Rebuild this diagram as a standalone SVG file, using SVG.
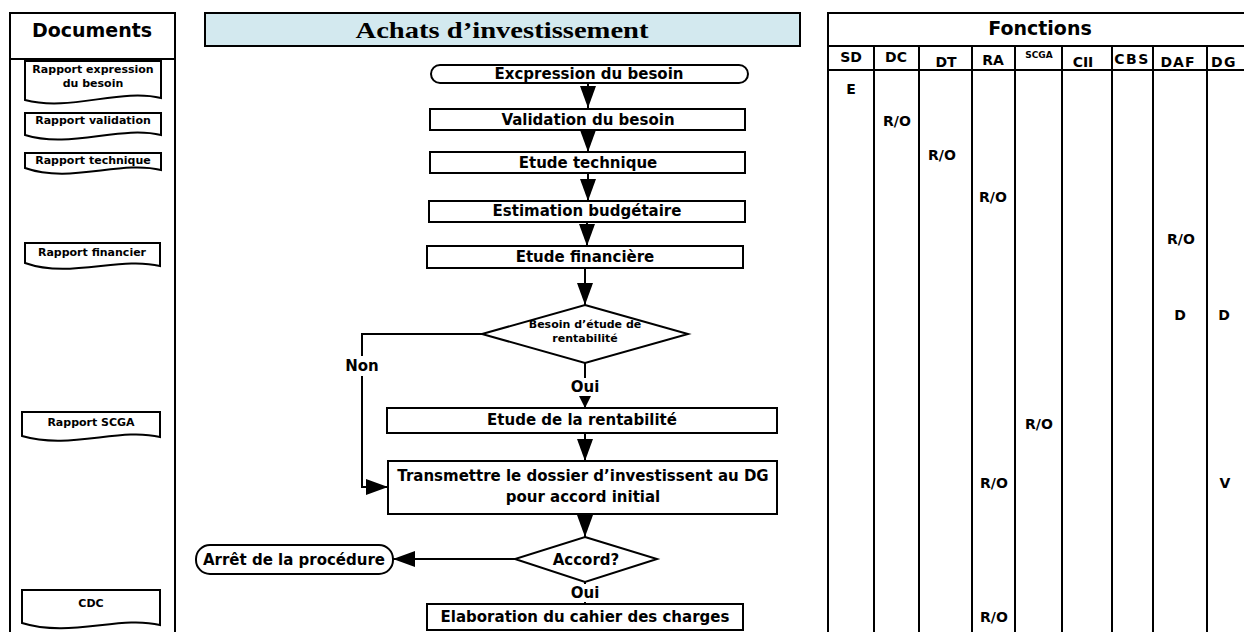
<svg xmlns="http://www.w3.org/2000/svg" width="1244" height="632" viewBox="0 0 1244 632">
<style>
.ln{fill:none;stroke:#000;stroke-width:2}
.box{fill:#fff;stroke:#000;stroke-width:2}
.t{font-family:"DejaVu Sans","Liberation Sans",sans-serif;font-weight:bold;fill:#000;text-anchor:middle}
.f15{font-size:15px}
.f11{font-size:11px}
.f14{font-size:14px}
.f19{font-size:19px}
.bg{fill:#fff;stroke:none}
</style>
<defs>
<marker id="ah" markerUnits="userSpaceOnUse" markerWidth="24" markerHeight="18" refX="22" refY="8" orient="auto"><path d="M0,0 L22,8 L0,16 z" fill="#000"/></marker>
<marker id="ahs" markerUnits="userSpaceOnUse" markerWidth="14" markerHeight="14" refX="12" refY="6" orient="auto"><path d="M0,0 L12,6 L0,12 z" fill="#000"/></marker>
</defs>
<rect width="1244" height="632" fill="#fff"/>

<!-- Documents column -->
<g id="documents">
<path class="ln" d="M10,640 V13 H175 V640"/>
<line class="ln" x1="10" y1="59" x2="175" y2="59"/>
<text class="t f19" x="92" y="37">Documents</text>
</g>
<g id="doc-expression">
<path class="box" d="M25,61 H161 V98 C120,88 70,112 25,100 Z"/>
<text class="t f11" x="93" y="73">Rapport expression</text>
<text class="t f11" x="93" y="87">du besoin</text>
</g>
<g id="doc-validation">
<path class="box" d="M25,113 H161 V135 C120,125 70,149 25,135 Z"/>
<text class="t f11" x="93" y="124">Rapport validation</text>
</g>
<g id="doc-technique">
<path class="box" d="M25,153 H161 V170 C120,160 70,184 25,168 Z"/>
<text class="t f11" x="93" y="164">Rapport technique</text>
</g>
<g id="doc-financier">
<path class="box" d="M25,243 H160 V266 C120,256 70,279 25,263 Z"/>
<text class="t f11" x="92" y="256">Rapport financier</text>
</g>
<g id="doc-scga">
<path class="box" d="M22,412 H160 V437 C120,427 70,450 22,436 Z"/>
<text class="t f11" x="91" y="426">Rapport SCGA</text>
</g>
<g id="doc-cdc">
<path class="box" d="M22,590 H160 V625 C120,615 70,638 22,623 Z"/>
<text class="t f11" x="91" y="607">CDC</text>
</g>

<!-- Title -->
<g id="title">
<rect x="205" y="13" width="595" height="33" fill="#d3e9ef" stroke="#000" stroke-width="2"/>
<text x="502" y="38" font-family="'Liberation Serif',serif" font-weight="bold" font-size="24" text-anchor="middle" textLength="293" lengthAdjust="spacingAndGlyphs">Achats d’investissement</text>
</g>

<!-- Connectors -->
<g id="connectors">
<line class="ln" x1="588" y1="83" x2="588" y2="108" marker-end="url(#ah)"/>
<line class="ln" x1="588" y1="130" x2="588" y2="152" marker-end="url(#ah)"/>
<line class="ln" x1="588" y1="173" x2="588" y2="201" marker-end="url(#ah)"/>
<line class="ln" x1="587" y1="222" x2="587" y2="246" marker-end="url(#ah)"/>
<line class="ln" x1="585" y1="268" x2="585" y2="305" marker-end="url(#ah)"/>
<line class="ln" x1="585" y1="363" x2="585" y2="408" marker-end="url(#ahs)"/>
<line class="ln" x1="585" y1="433" x2="585" y2="461" marker-end="url(#ah)"/>
<line class="ln" x1="585" y1="514" x2="585" y2="537" marker-end="url(#ah)"/>
<line class="ln" x1="515" y1="559" x2="393" y2="559" marker-end="url(#ah)"/>
<polyline class="ln" points="482,334 362,334 362,487 388,487" marker-end="url(#ah)"/>
<line class="ln" x1="585" y1="582" x2="585" y2="604"/>
<rect class="bg" x="344" y="356" width="36" height="20"/>
<text class="t f15" x="362" y="371">Non</text>
<rect class="bg" x="569" y="378" width="32" height="18"/>
<text class="t f15" x="585" y="392">Oui</text>
<rect class="bg" x="569" y="584" width="32" height="18"/>
<text class="t f15" x="585" y="598">Oui</text>
</g>

<!-- Flowchart nodes -->
<g id="n-expression">
<rect class="box" x="431" y="65" width="317" height="18" rx="9" ry="9"/>
<text class="t f15" x="589" y="79">Excpression du besoin</text>
</g>
<g id="n-validation">
<rect class="box" x="430" y="109" width="315" height="21"/>
<text class="t f15" x="588" y="125">Validation du besoin</text>
</g>
<g id="n-technique">
<rect class="box" x="430" y="152" width="315" height="21"/>
<text class="t f15" x="588" y="168">Etude technique</text>
</g>
<g id="n-budget">
<rect class="box" x="429" y="201" width="316" height="21"/>
<text class="t f15" x="587" y="216">Estimation budgétaire</text>
</g>
<g id="n-financiere">
<rect class="box" x="427" y="246" width="316" height="22"/>
<text class="t f15" x="585" y="262">Etude financière</text>
</g>
<g id="n-besoin-rentabilite">
<polygon class="box" points="585,305 688,334 585,363 482,334"/>
<text class="t f11" x="585" y="328">Besoin d’étude de</text>
<text class="t f11" x="585" y="342">rentabilité</text>
</g>
<g id="n-rentabilite">
<rect class="box" x="387" y="408" width="390" height="25"/>
<text class="t f15" x="582" y="425">Etude de la rentabilité</text>
</g>
<g id="n-transmettre">
<rect class="box" x="388" y="461" width="389" height="53"/>
<text class="t f15" x="583" y="481">Transmettre le dossier d’investissent au DG</text>
<text class="t f15" x="583" y="502">pour accord initial</text>
</g>
<g id="n-accord">
<polygon class="box" points="585,537 657,559 585,582 515,559"/>
<text class="t f15" x="586" y="565">Accord?</text>
</g>
<g id="n-arret">
<rect class="box" x="196" y="545" width="197" height="29" rx="14" ry="14"/>
<text class="t f15" x="294" y="565">Arrêt de la procédure</text>
</g>
<g id="n-cahier">
<rect class="box" x="427" y="604" width="316" height="26"/>
<text class="t f15" x="585" y="622">Elaboration du cahier des charges</text>
</g>

<!-- Fonctions table -->
<g id="fonctions">
<path class="ln" d="M828,640 V13 H1250"/>
<line class="ln" x1="828" y1="46" x2="1250" y2="46"/>
<line class="ln" x1="828" y1="70" x2="1250" y2="70"/>
<line class="ln" x1="874" y1="46" x2="874" y2="640"/>
<line class="ln" x1="919" y1="46" x2="919" y2="640"/>
<line class="ln" x1="972" y1="46" x2="972" y2="640"/>
<line class="ln" x1="1015" y1="46" x2="1015" y2="640"/>
<line class="ln" x1="1062" y1="46" x2="1062" y2="640"/>
<line class="ln" x1="1112" y1="46" x2="1112" y2="640"/>
<line class="ln" x1="1153" y1="46" x2="1153" y2="640"/>
<line class="ln" x1="1207" y1="46" x2="1207" y2="640"/>
<text class="t f19" x="1040" y="35">Fonctions</text>
<text class="t f14" x="851" y="62">SD</text>
<text class="t f14" x="896" y="62">DC</text>
<text class="t f14" x="946" y="67">DT</text>
<text class="t f14" x="993" y="65">RA</text>
<text class="t" font-size="9" x="1039" y="58">SCGA</text>
<text class="t f14" x="1083" y="67">CII</text>
<text class="t f14" x="1132" y="64" letter-spacing="1.5">CBS</text>
<text class="t f14" x="1178" y="67" letter-spacing="1">DAF</text>
<text class="t f14" x="1224" y="67" letter-spacing="1.5">DG</text>
</g>
<g id="cells">
<text class="t f14" x="851" y="94">E</text>
<text class="t f14" x="897" y="126">R/O</text>
<text class="t f14" x="942" y="160">R/O</text>
<text class="t f14" x="993" y="202">R/O</text>
<text class="t f14" x="1181" y="244">R/O</text>
<text class="t f14" x="1180" y="320">D</text>
<text class="t f14" x="1224" y="320">D</text>
<text class="t f14" x="1039" y="429">R/O</text>
<text class="t f14" x="994" y="488">R/O</text>
<text class="t f14" x="1225" y="488">V</text>
<text class="t f14" x="994" y="622">R/O</text>
</g>
</svg>
